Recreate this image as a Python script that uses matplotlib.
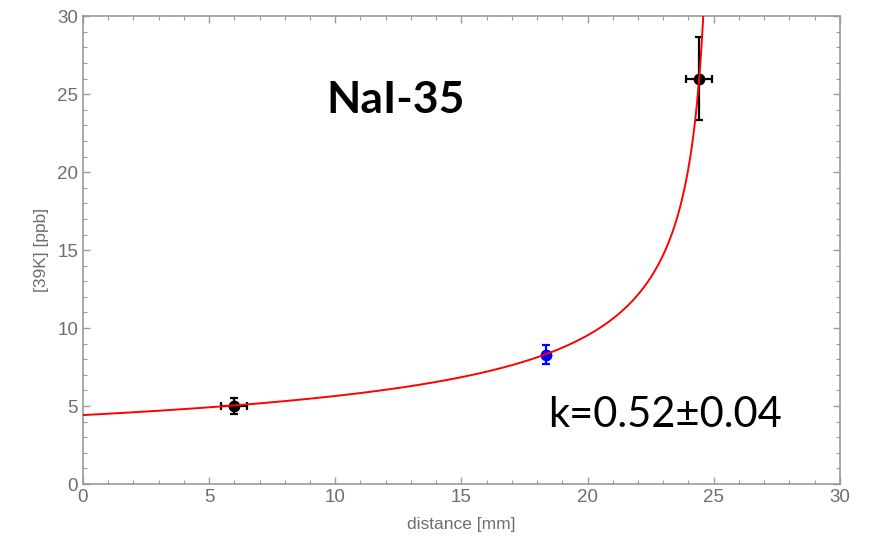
import numpy as np
import matplotlib
matplotlib.use("Agg")
import matplotlib.pyplot as plt
from matplotlib.ticker import MultipleLocator

# =========================
# Data
# =========================
dist = [6.0, 18.34, 24.43]
conc = [5.0, 8.3, 26.0]
dist_err = [0.52, 0.0, 0.52]
conc_err = [0.53, 0.6, 2.64]
point_colors = ["black", "blue", "black"]

# fitted segregation curve C = C_start * (1 - x/L)^(k-1)
k_fit = 0.52
c_start = 4.42
length = 25.05

title_text = "NaI-35"
k_text = "k=0.52\u00b10.04"

plt.rcParams["font.family"] = ["Liberation Sans", "DejaVu Sans"]

GRAY = "#9a9a9a"
LABEL = "#6e6e6e"

fig = plt.figure(figsize=(8.76, 5.39), dpi=100)
ax = fig.add_axes([0.0947, 0.102, 0.864, 0.868])

x = np.linspace(0, length * 0.9995, 4000)
y = c_start * (1 - x / length) ** (k_fit - 1)
ax.plot(x, y, color="red", lw=1.4, zorder=4)

for xi, yi, xe, ye, c in zip(dist, conc, dist_err, conc_err, point_colors):
    ax.errorbar(xi, yi, xerr=xe if xe > 0 else None, yerr=ye, fmt="o",
                color=c, ms=7.5, elinewidth=1.6, capsize=3.2, capthick=1.6,
                zorder=3)

ax.set_xlim(0, 30)
ax.set_ylim(0, 30)
ax.xaxis.set_major_locator(MultipleLocator(5))
ax.yaxis.set_major_locator(MultipleLocator(5))
ax.xaxis.set_minor_locator(MultipleLocator(1))
ax.yaxis.set_minor_locator(MultipleLocator(1))
ax.tick_params(which="both", direction="in", top=True, right=True,
               color=GRAY, labelcolor=LABEL, labelsize=13.5)
ax.tick_params(which="major", length=5, width=1)
ax.tick_params(which="minor", length=3, width=0.8)
for s in ax.spines.values():
    s.set_color(GRAY)
    s.set_linewidth(1.2)

ax.set_xlabel("distance [mm]", color=LABEL, fontsize=12.5, labelpad=8)
ax.set_ylabel("[39K] [ppb]", color=LABEL, fontsize=12.5, labelpad=6)

ax.text(12.4, 24.6, title_text, fontsize=32, fontweight="bold",
        family=["Lato", "DejaVu Sans"], ha="center", va="center")
ax.text(18.45, 4.4, k_text, fontsize=30, family=["Lato", "DejaVu Sans"],
        ha="left", va="center")

fig.savefig("out.png", dpi=100)
